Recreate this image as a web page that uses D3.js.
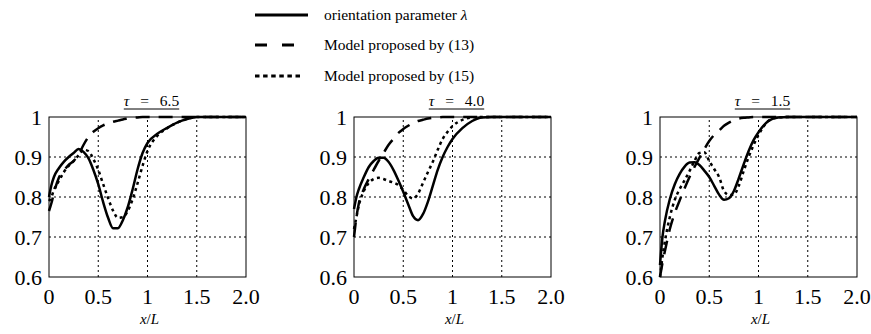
<!DOCTYPE html>
<html>
<head>
<meta charset="utf-8">
<script src="https://cdn.jsdelivr.net/npm/d3@7"></script>
<style>
  body { margin: 0; background: #fff; }
</style>
</head>
<body>
<div id="chart"></div>
<script>
// sample positions along x/L
const xs = [0, 0.025, 0.05, 0.1, 0.15, 0.2, 0.25, 0.3, 0.35, 0.4, 0.45, 0.5, 0.55, 0.6, 0.65,
            0.7, 0.75, 0.8, 0.85, 0.9, 0.95, 1.0, 1.1, 1.2, 1.3, 1.4, 1.5, 1.75, 2.0];

// tau = 6.5
const lambda65 = [0.80, 0.83, 0.85, 0.872, 0.888, 0.90, 0.91, 0.92, 0.913, 0.897, 0.868, 0.832, 0.787, 0.748, 0.722,
                  0.722, 0.742, 0.775, 0.82, 0.87, 0.91, 0.935, 0.958, 0.973, 0.986, 0.995, 1, 1, 1];
const model13_65 = [0.765, 0.785, 0.81, 0.848, 0.866, 0.88, 0.89, 0.905, 0.93, 0.95, 0.963, 0.972, 0.979, 0.984, 0.988,
                    0.991, 0.994, 0.996, 0.998, 0.999, 1, 1, 1, 1, 1, 1, 1, 1, 1];
const model15_65 = [0.79, 0.80, 0.818, 0.84, 0.862, 0.878, 0.89, 0.904, 0.918, 0.915, 0.895, 0.868, 0.832, 0.797, 0.766,
                    0.748, 0.75, 0.765, 0.795, 0.835, 0.878, 0.915, 0.953, 0.972, 0.986, 0.995, 1, 1, 1];

// tau = 4.0
const lambda40 = [0.77, 0.80, 0.82, 0.85, 0.875, 0.89, 0.898, 0.898, 0.888, 0.868, 0.842, 0.813, 0.782, 0.752, 0.742,
                  0.757, 0.788, 0.828, 0.868, 0.90, 0.925, 0.945, 0.972, 0.99, 0.999, 1, 1, 1, 1];
const model13_40 = [0.70, 0.75, 0.785, 0.82, 0.845, 0.868, 0.89, 0.91, 0.93, 0.945, 0.96, 0.97, 0.978, 0.985, 0.99,
                    0.993, 0.996, 0.998, 0.999, 1, 1, 1, 1, 1, 1, 1, 1, 1, 1];
const model15_40 = [0.72, 0.75, 0.78, 0.815, 0.835, 0.845, 0.848, 0.845, 0.84, 0.836, 0.83, 0.818, 0.803, 0.796, 0.808,
                    0.835, 0.862, 0.888, 0.918, 0.945, 0.963, 0.977, 0.993, 0.999, 1, 1, 1, 1, 1];

// tau = 1.5
const lambda15 = [0.63, 0.70, 0.74, 0.795, 0.832, 0.858, 0.876, 0.886, 0.887, 0.88, 0.866, 0.85, 0.828, 0.806, 0.793,
                  0.797, 0.815, 0.847, 0.882, 0.915, 0.942, 0.962, 0.99, 0.999, 1, 1, 1, 1, 1];
const model13_15 = [0.60, 0.635, 0.665, 0.72, 0.76, 0.792, 0.822, 0.85, 0.875, 0.898, 0.92, 0.94, 0.955, 0.966, 0.978,
                    0.986, 0.992, 0.996, 0.998, 0.999, 1, 1, 1, 1, 1, 1, 1, 1, 1];
const model15_15 = [0.60, 0.65, 0.69, 0.75, 0.793, 0.82, 0.842, 0.865, 0.89, 0.91, 0.912, 0.89, 0.87, 0.85, 0.815,
                    0.805, 0.806, 0.828, 0.865, 0.90, 0.93, 0.955, 0.99, 0.999, 1, 1, 1, 1, 1];

const tauValues = ["6.5", "4.0", "1.5"];
const xTicks = [0, 0.5, 1, 1.5, 2];
const xTickLabels = ["0", "0.5", "1", "1.5", "2.0"];
const yTicks = [0.6, 0.7, 0.8, 0.9, 1];
const yTickLabels = ["0.6", "0.7", "0.8", "0.9", "1"];
const legendLabels = ["orientation parameter ", "Model proposed by (13)", "Model proposed by (15)"];

const panels = [
  { tau: tauValues[0], series: [lambda65, model13_65, model15_65] },
  { tau: tauValues[1], series: [lambda40, model13_40, model15_40] },
  { tau: tauValues[2], series: [lambda15, model13_15, model15_15] }
];

const width = 871, height = 334;
const panelLeft = [49, 354, 660];
const pw = 197, ph = 160, plotTop = 117;
const dashes = [null, "14,9", "3,3.5"];
const serif = "'Liberation Serif', 'Times New Roman', 'DejaVu Serif', serif";

const svg = d3.select("#chart").append("svg")
    .attr("width", width)
    .attr("height", height)
    .attr("font-family", serif)
    .style("font-family", serif);

// legend
const legendY = [15, 45, 76];
const legendDash = [null, "12,15", "4.5,3.6"];
const legendEnd = [308, 295, 303];
legendLabels.forEach((lbl, i) => {
    svg.append("line")
        .attr("x1", 255).attr("x2", legendEnd[i])
        .attr("y1", legendY[i]).attr("y2", legendY[i])
        .attr("stroke", "#000")
        .attr("stroke-width", 3)
        .attr("stroke-dasharray", legendDash[i]);
    let t = svg.append("text")
        .attr("x", 324)
        .attr("y", legendY[i])
        .attr("dy", "0.35em")
        .style("font-size", "15.5px")
        .text(lbl);
    if (i == 0) {
        t.append("tspan").style("font-style", "italic").text("λ");
    }
});

panels.forEach((p, pi) => {
    let x = d3.scaleLinear().domain([0, 2]).range([panelLeft[pi], panelLeft[pi] + pw]);
    let y = d3.scaleLinear().domain([0.6, 1]).range([plotTop + ph, plotTop]);
    let g = svg.append("g");

    // grid
    g.selectAll(".vgrid").data(xTicks.slice(1, -1)).enter().append("line")
        .attr("x1", d => x(d)).attr("x2", d => x(d))
        .attr("y1", y(0.6)).attr("y2", y(1))
        .attr("stroke", "#000").attr("stroke-width", 1)
        .attr("stroke-dasharray", "2,3");
    g.selectAll(".hgrid").data(yTicks.slice(1, -1)).enter().append("line")
        .attr("x1", x(0)).attr("x2", x(2))
        .attr("y1", d => y(d)).attr("y2", d => y(d))
        .attr("stroke", "#000").attr("stroke-width", 1)
        .attr("stroke-dasharray", "2,3");

    g.append("rect")
        .attr("x", x(0)).attr("y", y(1))
        .attr("width", x(2) - x(0)).attr("height", y(0.6) - y(1))
        .attr("fill", "none").attr("stroke", "#000").attr("stroke-width", 1);

    // tick labels
    g.selectAll(".xl").data(xTicks).enter().append("text")
        .attr("x", d => x(d))
        .attr("y", 304)
        .attr("text-anchor", "middle")
        .style("font-size", "22px")
        .text((d, i) => xTickLabels[i]);
    g.selectAll(".yl").data(yTicks).enter().append("text")
        .attr("x", x(0) - 7)
        .attr("y", d => y(d))
        .attr("dy", "0.35em")
        .attr("text-anchor", "end")
        .style("font-size", "22px")
        .text((d, i) => yTickLabels[i]);

    // axis title
    let xt = g.append("text")
        .attr("x", x(1) + 2)
        .attr("y", 324)
        .attr("text-anchor", "middle")
        .style("font-size", "15px")
        .style("font-style", "italic")
        .text("x");
    xt.append("tspan").style("font-style", "normal").text("/");
    xt.append("tspan").text("L");

    // panel title, underlined
    let tt = g.append("text")
        .attr("x", x(1) + 4)
        .attr("y", 106)
        .attr("text-anchor", "middle")
        .style("font-size", "15.5px")
        .style("word-spacing", "7px");
    tt.append("tspan").style("font-style", "italic").text("τ");
    tt.append("tspan").text(" = " + p.tau);
    let tw = tt.node().getComputedTextLength();
    g.append("line")
        .attr("x1", x(1) + 4 - tw / 2).attr("x2", x(1) + 4 + tw / 2)
        .attr("y1", 109).attr("y2", 109)
        .attr("stroke", "#000").attr("stroke-width", 1);

    // curves
    let line = d3.line()
        .x((d, i) => x(xs[i]))
        .y(d => y(d))
        .curve(d3.curveMonotoneX);
    p.series.forEach((s, si) => {
        g.append("path")
            .attr("d", line(s))
            .attr("fill", "none")
            .attr("stroke", "#000")
            .attr("stroke-width", 2.5)
            .attr("stroke-dasharray", dashes[si]);
    });
});
</script>
</body>
</html>
